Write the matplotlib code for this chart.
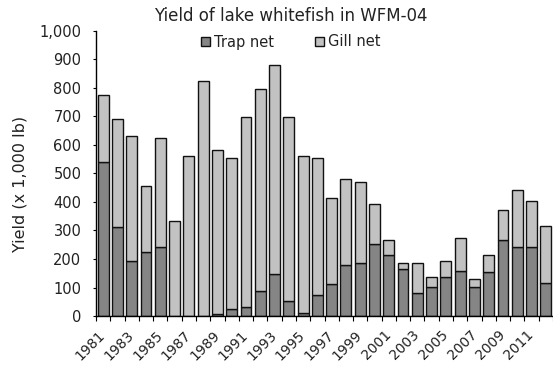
import matplotlib
matplotlib.use("Agg")
import matplotlib.pyplot as plt
import numpy as np
from matplotlib.ticker import FuncFormatter, FixedLocator

plt.rcParams['font.family'] = ['DejaVu Sans']

years = list(range(1981, 2013))
trap = [539, 313, 193, 223, 243, 0, 0, 0, 6, 25, 32, 88, 147, 53, 9, 74,
        113, 179, 185, 251, 214, 166, 80, 101, 137, 157, 101, 155, 265, 243, 243, 116]
total = [775, 691, 632, 455, 625, 335, 561, 824, 582, 555, 697, 795, 879, 698, 562, 553,
         415, 480, 470, 392, 265, 185, 185, 138, 193, 272, 130, 214, 372, 442, 403, 316]
gill = [t - p for t, p in zip(total, trap)]
tick_labels = [str(y) for y in years[::2]]

W, H = 553, 367
fig = plt.figure(figsize=(W / 100, H / 100), dpi=100)
ax = fig.add_axes([96 / W, 1 - 316 / H, (553 - 96) / W, (316 - 31) / H])

x = np.arange(len(years))
ax.bar(x, trap, width=0.76, color='#858585', edgecolor='#111111', linewidth=1.0, label='Trap net')
ax.bar(x, gill, width=0.76, bottom=trap, color='#c2c2c2', edgecolor='#111111', linewidth=1.0, label='Gill net')

ax.set_xlim(-0.5, len(years) - 0.5)
ax.set_ylim(0, 1000)
ax.set_yticks(np.arange(0, 1001, 100))
ax.yaxis.set_major_formatter(FuncFormatter(lambda v, p: f"{int(v):,}"))
ax.set_xticks(x[::2])
ax.set_xticklabels(tick_labels, rotation=45, ha='right', va='center', rotation_mode='anchor',
                   fontsize=10, color='#222222')
ax.tick_params(axis='x', length=0, pad=12)
ax.xaxis.set_minor_locator(FixedLocator(np.arange(-0.5, len(years), 1)))
ax.tick_params(axis='x', which='minor', length=3.5, width=0.8)
ax.tick_params(axis='y', labelsize=10.5, length=2.5, width=0.8, pad=8, labelcolor='#222222')

for s in ['top', 'right']:
    ax.spines[s].set_visible(False)
ax.spines['left'].set_linewidth(1.0)
ax.spines['bottom'].set_linewidth(1.0)

fig.text(20 / W, 1 - 184 / H, 'Yield (x 1,000 lb)', rotation=90, ha='center', va='center',
         fontsize=11.5, color='#222222')
fig.text(291 / W, 1 - 16 / H, 'Yield of lake whitefish in WFM-04', ha='center', va='center',
         fontsize=12, color='#222222')
fig.legend(loc='center', bbox_to_anchor=(291 / W, 1 - 42 / H), ncol=2, frameon=False, fontsize=10.5,
           handlelength=0.6, handleheight=0.6, handletextpad=0.3, columnspacing=2.8, borderaxespad=0,
           labelcolor='#222222')

fig.savefig('out.png', dpi=100)
